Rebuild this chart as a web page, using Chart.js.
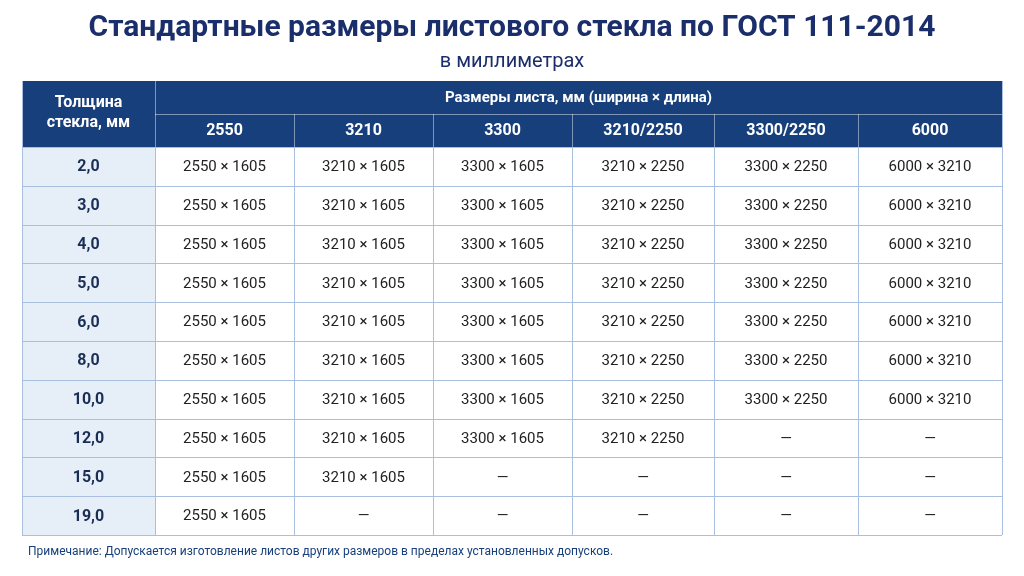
<!DOCTYPE html>
<html><head><meta charset="utf-8">
<script src="https://cdn.jsdelivr.net/npm/chart.js@4/dist/chart.umd.min.js"></script>
<style>html,body{margin:0;background:#fff}#w{width:1024px;height:576px}</style>
</head><body><div id="w"><canvas id="c"></canvas></div>
<script>
const titleText = 'Стандартные размеры листового стекла по ГОСТ 111-2014';
const subtitleText = 'в миллиметрах';
const noteText = 'Примечание: Допускается изготовление листов других размеров в пределах установленных допусков.';
const firstHeader = ['Толщина', 'стекла, мм'];
const groupHeader = 'Размеры листа, мм (ширина × длина)';
const columnLabels = ['2550', '3210', '3300', '3210/2250', '3300/2250', '6000'];
const columnSizes = ['2550 × 1605', '3210 × 1605', '3300 × 1605', '3210 × 2250', '3300 × 2250', '6000 × 3210'];
const thicknesses = ['2,0', '3,0', '4,0', '5,0', '6,0', '8,0', '10,0', '12,0', '15,0', '19,0'];
const availableCols = [6, 6, 6, 6, 6, 6, 6, 4, 2, 1];
const colEdges = [0, 133, 272, 411, 550, 692, 836, 980];

const NAVY = '#173f7c', LIGHT = '#e6eef8', BORDER = '#a8bfdf';
const points = [];
thicknesses.forEach((t, r) => {
  for (let c = 0; c < 7; c++) {
    const text = c === 0 ? t : (c <= availableCols[r] ? columnSizes[c - 1] : '—');
    points.push({x: (colEdges[c] + colEdges[c + 1]) / 2, y: t, text, c});
  }
});

const tablePlugin = {
  id: 'table',
  afterDatasetsDraw(chart) {
    const {ctx, chartArea: a, scales: {x}} = chart;
    const X = v => x.getPixelForValue(v);
    const rowH = (a.bottom - a.top) / thicknesses.length;
    const hTop = a.top - 66, hMid = a.top - 33;
    ctx.save();
    ctx.fillStyle = LIGHT;
    ctx.fillRect(X(0), a.top, X(colEdges[1]) - X(0), a.bottom - a.top);
    ctx.fillStyle = NAVY;
    ctx.fillRect(X(0), hTop, X(980) - X(0), 66);
    ctx.strokeStyle = 'rgba(255,255,255,0.45)'; ctx.lineWidth = 1;
    ctx.beginPath();
    ctx.moveTo(X(colEdges[1]) + .5, hTop); ctx.lineTo(X(colEdges[1]) + .5, a.top);
    ctx.moveTo(X(colEdges[1]), hMid + .5); ctx.lineTo(X(980), hMid + .5);
    for (let c = 2; c < 7; c++) { ctx.moveTo(X(colEdges[c]) + .5, hMid); ctx.lineTo(X(colEdges[c]) + .5, a.top); }
    ctx.stroke();
    ctx.fillStyle = '#fff'; ctx.textAlign = 'center'; ctx.textBaseline = 'middle';
    ctx.font = 'bold 16px Roboto, "Noto Sans", sans-serif';
    const fc = X(colEdges[1] / 2);
    ctx.fillText(firstHeader[0], fc, hTop + 22); ctx.fillText(firstHeader[1], fc, hTop + 42);
    ctx.font = 'bold 15px Roboto, "Noto Sans", sans-serif';
    ctx.fillText(groupHeader, (X(colEdges[1]) + X(980)) / 2, hTop + 17);
    ctx.font = 'bold 16px Roboto, "Noto Sans", sans-serif';
    columnLabels.forEach((l, i) => ctx.fillText(l, (X(colEdges[i + 1]) + X(colEdges[i + 2])) / 2, hMid + 17));
    ctx.strokeStyle = BORDER;
    ctx.beginPath();
    for (let r = 0; r <= thicknesses.length; r++) { const yy = Math.round(a.top + r * rowH) + .5; ctx.moveTo(X(0), yy); ctx.lineTo(X(980), yy); }
    colEdges.forEach(e => { const xx = Math.round(X(e)) + .5; ctx.moveTo(xx, a.top); ctx.lineTo(xx, a.bottom); });
    ctx.moveTo(X(0) + .5, hTop); ctx.lineTo(X(0) + .5, a.top);
    ctx.moveTo(X(980) + .5, hTop); ctx.lineTo(X(980) + .5, a.top);
    ctx.stroke();
    const meta = chart.getDatasetMeta(0);
    meta.data.forEach((el, i) => {
      const p = points[i];
      if (p.c === 0) { ctx.font = 'bold 16px Roboto, "Noto Sans", sans-serif'; ctx.fillStyle = '#1a2d55'; }
      else { ctx.font = '15px Roboto, "Noto Sans", sans-serif'; ctx.fillStyle = '#222'; }
      ctx.fillText(p.text, el.x, el.y + 1);
    });
    ctx.textAlign = 'left'; ctx.fillStyle = NAVY; ctx.font = '12px Roboto, "Noto Sans", sans-serif';
    ctx.fillText(noteText, X(0) + 6, a.bottom + 17);
    ctx.restore();
  }
};

new Chart(document.getElementById('c'), {
  type: 'scatter',
  data: {datasets: [{data: points, pointRadius: 0, pointHoverRadius: 0}]},
  options: {
    responsive: true, maintainAspectRatio: false, animation: false,
    layout: {padding: {left: 22, right: 22, top: 0, bottom: 41}},
    events: [],
    plugins: {
      legend: {display: false}, tooltip: {enabled: false},
      title: {display: true, text: titleText, color: '#1a2e6b',
        font: {family: 'Roboto, "Noto Sans", sans-serif', size: 30, weight: 'bold'}, padding: {top: 10, bottom: 4}},
      subtitle: {display: true, text: subtitleText, color: '#1a2e6b',
        font: {family: 'Roboto, "Noto Sans", sans-serif', size: 20}, padding: {top: 0, bottom: 73}}
    },
    scales: {
      x: {type: 'linear', min: 0, max: 980, display: false},
      y: {type: 'category', labels: thicknesses, offset: true, display: false}
    }
  },
  plugins: [tablePlugin]
});
</script></body></html>
